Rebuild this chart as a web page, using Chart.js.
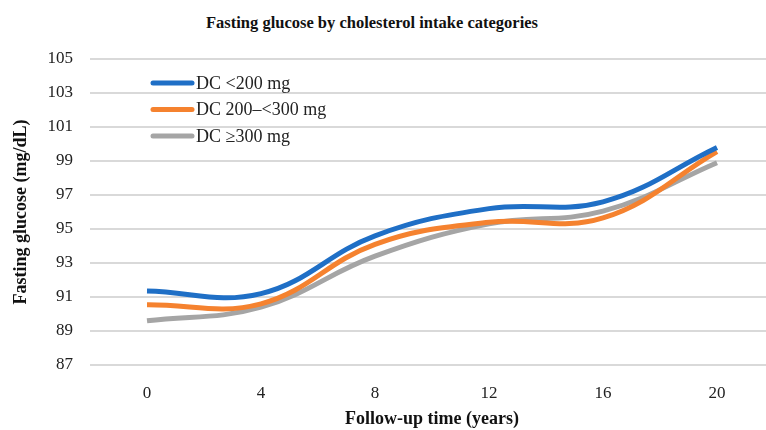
<!DOCTYPE html>
<html lang="en">
<head>
    <meta charset="UTF-8">
    <title>Fasting glucose by cholesterol intake categories</title>
    <script src="https://cdn.jsdelivr.net/npm/chart.js"></script>
    <style>
        body {
            margin: 0;
            background: #ffffff;
            overflow: hidden;
            font-family: "Liberation Serif", "DejaVu Serif", serif;
        }
        .title {
            position: absolute;
            left: 0;
            top: 13px;
            width: 744px;
            text-align: center;
            font-weight: bold;
            font-size: 16.5px;
            color: #111;
        }
        .chart-box {
            position: absolute;
            left: 0;
            top: 0;
            width: 776px;
            height: 430px;
        }
    </style>
</head>
<body>
    <div class="title">Fasting glucose by cholesterol intake categories</div>
    <div class="chart-box"><canvas id="glucoseChart"></canvas></div>

    <script>
        const years = ['0', '4', '8', '12', '16', '20'];
        const seriesNames = ['DC <200 mg', 'DC 200\u2013<300 mg', 'DC \u2265300 mg'];
        const dcLow = [91.35, 91.2, 94.6, 96.2, 96.6, 99.8];
        const dcMid = [90.55, 90.6, 94.1, 95.4, 95.65, 99.55];
        const dcHigh = [89.6, 90.4, 93.4, 95.3, 96.05, 98.9];
        const seriesColors = ['#1f6fc6', '#f5822f', '#a5a5a5'];

        const serif = '"Liberation Serif", "DejaVu Serif", serif';

        // legend drawn inside the plot area, top-left
        const innerLegend = {
            id: 'innerLegend',
            afterDatasetsDraw(chart) {
                const ctx = chart.ctx;
                ctx.save();
                chart.data.datasets.forEach((ds, i) => {
                    const y = 83 + i * 26.5;
                    ctx.strokeStyle = ds.borderColor;
                    ctx.lineWidth = 5;
                    ctx.lineCap = 'round';
                    ctx.beginPath();
                    ctx.moveTo(153, y);
                    ctx.lineTo(192, y);
                    ctx.stroke();
                    ctx.fillStyle = '#222';
                    ctx.font = '18px ' + serif;
                    ctx.textBaseline = 'middle';
                    ctx.fillText(ds.label, 196, y + 1);
                });
                ctx.restore();
            }
        };

        const makeSet = (label, data, color) => ({
            label: label,
            data: data,
            borderColor: color,
            backgroundColor: color,
            borderWidth: 5,
            pointRadius: 0,
            tension: 0.4,
            fill: false
        });

        new Chart(document.getElementById('glucoseChart'), {
            type: 'line',
            data: {
                labels: years,
                datasets: [
                    makeSet(seriesNames[0], dcLow, seriesColors[0]),
                    makeSet(seriesNames[1], dcMid, seriesColors[1]),
                    makeSet(seriesNames[2], dcHigh, seriesColors[2])
                ]
            },
            options: {
                responsive: true,
                maintainAspectRatio: false,
                animation: false,
                layout: { padding: { top: 59, right: 2, left: 0, bottom: 0 } },
                plugins: {
                    legend: { display: false },
                    tooltip: { enabled: false }
                },
                scales: {
                    x: {
                        offset: true,
                        grid: { display: false },
                        border: { display: false },
                        ticks: { color: '#222', font: { family: serif, size: 17 }, padding: 10 },
                        title: {
                            display: true,
                            text: 'Follow-up time (years)',
                            color: '#111',
                            font: { family: serif, size: 18, weight: 'bold' },
                            padding: { top: 14, bottom: 0 }
                        },
                        afterFit(scale) { scale.height = 65; }
                    },
                    y: {
                        min: 87,
                        max: 105,
                        ticks: { stepSize: 2, color: '#222', font: { family: serif, size: 17 }, padding: 17 },
                        grid: { color: '#d9d9d9', lineWidth: 2, drawTicks: false },
                        border: { display: false },
                        title: {
                            display: true,
                            text: 'Fasting glucose (mg/dL)',
                            color: '#111',
                            font: { family: serif, size: 18, weight: 'bold' },
                            padding: { top: 11, bottom: 0 }
                        },
                        afterFit(scale) { scale.width = 90; }
                    }
                }
            },
            plugins: [innerLegend]
        });
    </script>
</body>
</html>
